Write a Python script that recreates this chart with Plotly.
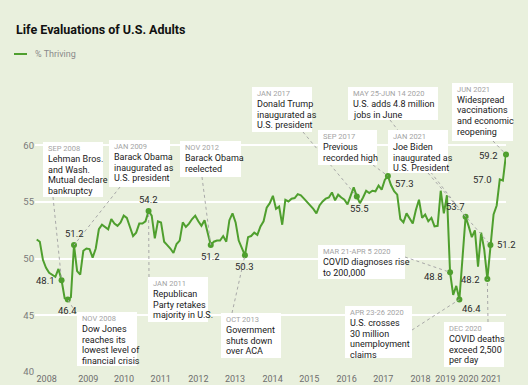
import plotly.graph_objects as go

# ---------------- data ----------------
thriving = [51.7, 51.5, 49.9, 49.2, 48.75, 48.6, 48.4, 49.1, 48.1, 46.5,
            46.4, 46.6, 51.2, 48.9, 48.6, 50.7, 50.9, 50.85, 50.1, 50.9,
            52.6, 53.0, 52.8, 52.6, 53.5, 53.1, 52.9, 53.2, 53.8, 53.6,
            52.8, 52.0, 52.3, 53.1, 53.1, 53.3, 54.2, 53.8, 51.8, 53.3,
            53.2, 51.5, 51.2, 50.9, 50.5, 51.3, 51.6, 53.2, 52.8, 53.1,
            53.5, 53.8, 53.3, 52.9, 53.4, 52.4, 51.2, 51.5, 51.6, 51.6,
            52.0, 51.5, 53.4, 54.0, 53.2, 51.6, 50.95, 50.3, 51.9, 52.0,
            52.3, 52.1, 52.85, 53.3, 54.5, 54.9, 55.55, 54.4, 54.6, 53.0,
            55.2, 55.05, 55.3, 55.35, 55.7, 55.6, 55.3, 55.0, 54.7, 54.4,
            54.0, 54.7, 55.05, 55.3, 55.4, 55.85, 55.15, 55.65, 55.4, 55.2,
            54.8, 55.6, 56.3, 55.5, 54.9, 55.4, 56.0, 55.8, 56.0, 55.95,
            56.45, 56.1, 56.95, 57.3, 56.5, 55.95, 55.65, 53.5, 53.2, 54.0,
            53.6, 53.1, 54.3, 55.2, 53.6, 53.9, 53.3, 53.6, 52.85, 52.9,
            56.0, 54.0, 55.6, 48.8, 46.8, 47.6, 46.4, 50.1, 53.7, 52.85,
            51.9, 52.5, 49.3, 52.3, 50.8, 48.2, 51.2, 53.9, 54.7, 57.0,
            56.9, 59.2]
period_index = list(range(len(thriving)))

year_labels = ["2008", "2009", "2010", "2011", "2012", "2013", "2014",
               "2015", "2016", "2017", "2018", "2019", "2020", "2021"]
year_tick_positions = [3.2, 16.6, 28.1, 39.9, 52.0, 63.8, 75.9, 87.7,
                       99.7, 111.5, 123.5, 131.5, 138.9, 146.2]
y_ticks = [40, 45, 50, 55, 60]

marked_points = [8, 10, 12, 36, 56, 67, 103, 113, 133, 136, 138, 145, 146, 151]
labelled_points = [8, 10, 12, 36, 56, 67, 103, 113, 133, 136, 138, 145, 146, 149, 151]

event_dates = ["SEP 2008", "JAN 2009", "NOV 2008", "JAN 2011", "NOV 2012",
               "OCT 2013", "JAN 2017", "SEP 2017", "MAY 25-JUN 14 2020",
               "JAN 2021", "JUN 2021", "MAR 21-APR 5 2020", "APR 23-26 2020",
               "DEC 2020"]
event_texts = [
    ["Lehman Bros.", "and Wash.", "Mutual declare", "bankruptcy"],
    ["Barack Obama", "inaugurated as", "U.S. president"],
    ["Dow Jones", "reaches its", "lowest level of", "financial crisis"],
    ["Republican", "Party retakes", "majority in U.S."],
    ["Barack Obama", "reelected"],
    ["Government", "shuts down", "over ACA"],
    ["Donald Trump", "inaugurated as", "U.S. president"],
    ["Previous", "recorded high"],
    ["U.S. adds 4.8 million", "jobs in June"],
    ["Joe Biden", "inaugurated as", "U.S. President"],
    ["Widespread", "vaccinations", "and economic", "reopening"],
    ["COVID diagnoses rise", "to 200,000"],
    ["U.S. crosses", "30 million", "unemployment", "claims"],
    ["COVID deaths", "exceed 2,500", "per day"],
]
event_points = [8, 12, 10, 36, 56, 67, 103, 113, 138, 146, 151, 133, 136, 145]

# ---------------- styling / layout ----------------
W, H = 528, 385
L, R, T, B = 35, 506, 75, 372          # plot area in pixels
XR = [-0.55, 151.0]
YR = [40, 40 + (B - T) / 11.33]

BG = "#E9F0DD"
GREEN = "#4F9F2E"
FONT = "Roboto"


def pxx(px):
    return (px - L) / (R - L)


def pxy(py):
    return (B - py) / (B - T)


def datx(px):
    return XR[0] + (px - L) / (R - L) * (XR[1] - XR[0])


def daty(py):
    return YR[0] + (B - py) / (B - T) * (YR[1] - YR[0])


# box geometry (left, top, right, bottom) in pixels and connector anchor on box
boxes = [
    (43, 142, 103, 197, (53, 197)),
    (109, 140, 170, 187, (120, 187)),
    (77, 312, 137, 366, (79, 318)),
    (148, 277, 208, 322, (149, 277)),
    (180, 141, 241, 177, (202, 177)),
    (221, 313, 281, 358, (232, 313)),
    (252, 87, 312, 132, (303, 132)),
    (318, 130, 377, 165, (373, 165)),
    (348, 87, 438, 120, (390, 120)),
    (388, 130, 448, 173, (428, 173)),
    (452, 83, 513, 141, (493, 141)),
    (318, 245, 405, 279, (405, 257)),
    (345, 306, 412, 358, (412, 330)),
    (444, 322, 504, 367, (488, 322)),
]

value_label_style = {
    8: dict(xanchor="right", yanchor="middle", xshift=-5, yshift=0),
    10: dict(xanchor="center", yanchor="top", xshift=0, yshift=-4),
    12: dict(xanchor="center", yanchor="bottom", xshift=0, yshift=4),
    36: dict(xanchor="center", yanchor="bottom", xshift=0, yshift=4),
    56: dict(xanchor="center", yanchor="top", xshift=0, yshift=-4),
    67: dict(xanchor="center", yanchor="top", xshift=0, yshift=-4),
    103: dict(xanchor="center", yanchor="top", xshift=3, yshift=-5),
    113: dict(xanchor="left", yanchor="middle", xshift=5, yshift=-8),
    133: dict(xanchor="right", yanchor="middle", xshift=-5, yshift=-4),
    136: dict(xanchor="left", yanchor="top", xshift=1, yshift=-2),
    138: dict(xanchor="right", yanchor="bottom", xshift=1, yshift=3),
    145: dict(xanchor="right", yanchor="middle", xshift=-5, yshift=0),
    146: dict(xanchor="left", yanchor="middle", xshift=5, yshift=1),
    149: dict(xanchor="right", yanchor="middle", xshift=-6, yshift=0),
    151: dict(xanchor="right", yanchor="middle", xshift=-6, yshift=-1),
}

fig = go.Figure()
fig.add_trace(go.Scatter(
    x=period_index, y=thriving, mode="lines", name="% Thriving",
    line=dict(color=GREEN, width=2), hoverinfo="skip", showlegend=False,
))
fig.add_trace(go.Scatter(
    x=[period_index[i] for i in marked_points],
    y=[thriving[i] for i in marked_points],
    mode="markers", marker=dict(color=GREEN, size=6),
    cliponaxis=False, showlegend=False, hoverinfo="skip",
))

shapes = []
annotations = []

# connectors first, so boxes lie on top
for (l, t, r, b, anchor), idx in zip(boxes, event_points):
    shapes.append(dict(type="line", xref="x", yref="y",
                       x0=datx(anchor[0]), y0=daty(anchor[1]),
                       x1=period_index[idx], y1=thriving[idx],
                       line=dict(color="#A8A8A8", width=1, dash="dot"),
                       layer="above"))
for (l, t, r, b, anchor), date, lines in zip(boxes, event_dates, event_texts):
    shapes.append(dict(type="rect", xref="paper", yref="paper",
                       x0=pxx(l), x1=pxx(r), y0=pxy(b), y1=pxy(t),
                       fillcolor="white", line=dict(width=0), layer="above"))
    y = t + 6.5
    annotations.append(dict(xref="paper", yref="paper", x=pxx(l + 3), y=pxy(y),
                            xanchor="left", yanchor="middle", showarrow=False,
                            text=date, font=dict(family=FONT, size=7.5, color="#A3A3A3")))
    for line in lines:
        y += 10.5
        annotations.append(dict(xref="paper", yref="paper", x=pxx(l + 3), y=pxy(y),
                                xanchor="left", yanchor="middle", showarrow=False,
                                text=line, font=dict(family=FONT, size=9, color="#1A1A1A")))

for i in labelled_points:
    st = value_label_style[i]
    annotations.append(dict(xref="x", yref="y", x=period_index[i], y=thriving[i],
                            text=f"{thriving[i]:.1f}", showarrow=False,
                            font=dict(family=FONT, size=9.5, color="#2A2A2A"), **st))

# title and legend
annotations.append(dict(xref="paper", yref="paper", x=pxx(14), y=pxy(29),
                        xanchor="left", yanchor="middle", showarrow=False,
                        text="<b>Life Evaluations of U.S. Adults</b>",
                        font=dict(family=FONT, size=12.5, color="#111111")))
shapes.append(dict(type="line", xref="paper", yref="paper",
                   x0=pxx(14), x1=pxx(27), y0=pxy(54), y1=pxy(54),
                   line=dict(color=GREEN, width=2)))
annotations.append(dict(xref="paper", yref="paper", x=pxx(33), y=pxy(54),
                        xanchor="left", yanchor="middle", showarrow=False,
                        text="% Thriving",
                        font=dict(family=FONT, size=9, color="#8A8A8A")))

fig.update_layout(
    width=W, height=H, template="none",
    paper_bgcolor=BG, plot_bgcolor=BG,
    margin=dict(l=L, r=W - R, t=T, b=H - B, autoexpand=False),
    showlegend=False,
    shapes=shapes, annotations=annotations,
    xaxis=dict(range=XR, tickvals=year_tick_positions, ticktext=year_labels,
               showgrid=False, zeroline=False, showline=False, ticks="",
               tickangle=0, ticklabelstandoff=0,
               tickfont=dict(family=FONT, size=9, color="#6E6E6E"),
               automargin=False, fixedrange=True),
    yaxis=dict(range=YR, tickvals=y_ticks, showgrid=True, gridcolor="white",
               gridwidth=2, zeroline=False, showline=False, ticks="",
               tickfont=dict(family=FONT, size=9.5, color="#7A7A7A"),
               automargin=False, fixedrange=True),
)

fig.write_html(
    "out.html",
    config={"displayModeBar": False},
    post_script="document.body.style.margin='0';document.body.style.background='" + BG + "';",
)
